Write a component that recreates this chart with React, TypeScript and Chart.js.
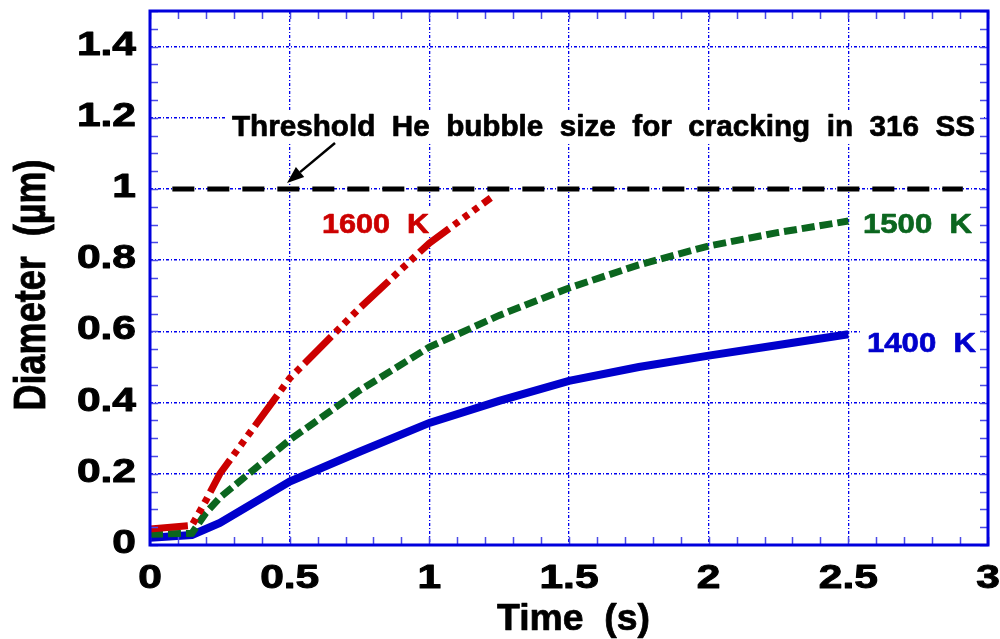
import React, { useEffect, useRef } from "react";
import { Chart, registerables } from "chart.js";

Chart.register(...registerables);

// ---- Data ----
const time1400 = [0, 0.15, 0.25, 0.5, 0.75, 1, 1.25, 1.5, 1.75, 2, 2.25, 2.5];
const dia1400 = [0.02, 0.028, 0.062, 0.178, 0.262, 0.343, 0.405, 0.461, 0.5, 0.532, 0.562, 0.592];

const time1500 = [0, 0.15, 0.2, 0.25, 0.5, 0.75, 1, 1.25, 1.5, 1.75, 2, 2.25, 2.5];
const dia1500 = [0.03, 0.033, 0.09, 0.133, 0.295, 0.434, 0.556, 0.645, 0.722, 0.787, 0.84, 0.878, 0.91];

const time1600 = [0, 0.15, 0.2, 0.25, 0.5, 0.75, 1, 1.22];
const dia1600 = [0.045, 0.055, 0.125, 0.2, 0.468, 0.665, 0.848, 0.975];

const thresholdTime = [0.08, 2.91];
const thresholdDia = [1, 1];

const xTicks = [0, 0.5, 1, 1.5, 2, 2.5, 3];
const xTickLabels = ["0", "0.5", "1", "1.5", "2", "2.5", "3"];
const yTicks = [0, 0.2, 0.4, 0.6, 0.8, 1, 1.2, 1.4];
const yTickLabels = ["0", "0.2", "0.4", "0.6", "0.8", "1", "1.2", "1.4"];

const xTitle = "Time  (s)";
const yTitle = "Diameter  (µm)";
const thresholdText = "Threshold  He  bubble  size  for  cracking  in  316  SS";
const seriesLabels = ["1600  K", "1500  K", "1400  K"];

const RED = "#cc0000";
const GREEN = "#0b661f";
const BLUE = "#0000cc";
const FRAME = "#0000dd";
const FONT = '"Liberation Sans", Arial, Helvetica, sans-serif';

function toPoints(xs: number[], ys: number[]) {
  return xs.map((x, i) => ({ x, y: ys[i] }));
}

function drawStretched(
  ctx: CanvasRenderingContext2D,
  text: string,
  x: number,
  baseline: number,
  font: string,
  color: string,
  sx: number,
  align: "left" | "right" | "center",
  heavy = 0.7
) {
  ctx.save();
  ctx.font = font;
  ctx.fillStyle = color;
  ctx.strokeStyle = color;
  ctx.lineJoin = "round";
  ctx.textBaseline = "alphabetic";
  ctx.textAlign = "left";
  const w = ctx.measureText(text).width * sx;
  const left = align === "left" ? x : align === "right" ? x - w : x - w / 2;
  ctx.translate(left, baseline);
  ctx.scale(sx, 1);
  ctx.fillText(text, 0, 0);
  if (heavy > 0) {
    ctx.lineWidth = heavy;
    ctx.strokeText(text, 0, 0);
  }
  ctx.restore();
}

function drawFit(
  ctx: CanvasRenderingContext2D,
  text: string,
  left: number,
  baseline: number,
  font: string,
  color: string,
  width: number
) {
  ctx.save();
  ctx.font = font;
  const m = ctx.measureText(text).width;
  ctx.restore();
  drawStretched(ctx, text, left, baseline, font, color, width / m, "left");
}

const overlayPlugin = {
  id: "overlay",
  beforeDatasetsDraw(chart: any) {
    const ctx: CanvasRenderingContext2D = chart.ctx;
    ctx.save();
    ctx.fillStyle = "#ffffff";
    // white boxes behind annotations
    ctx.fillRect(226, 110, 758, 33);
    ctx.fillRect(318, 208, 114, 29);
    ctx.fillRect(858, 208, 124, 30);
    ctx.fillRect(860, 327, 124, 30);
    ctx.restore();
  },
  afterDatasetsDraw(chart: any) {
    const ctx: CanvasRenderingContext2D = chart.ctx;
    const a = chart.chartArea;
    const xs = chart.scales.x;
    const ys = chart.scales.y;

    ctx.save();
    // minor / major ticks inside on all 4 sides
    ctx.strokeStyle = "#4a4ae8";
    ctx.lineWidth = 1.5;
    ctx.beginPath();
    for (let i = 0; i <= 30; i++) {
      const px = Math.round(xs.getPixelForValue(i / 10)) + 0.5;
      ctx.moveTo(px, a.bottom);
      ctx.lineTo(px, a.bottom - 8);
      ctx.moveTo(px, a.top);
      ctx.lineTo(px, a.top + 8);
    }
    for (let i = 0; i <= 30; i++) {
      const py = Math.round(ys.getPixelForValue(i * 0.05)) + 0.5;
      ctx.moveTo(a.left, py);
      ctx.lineTo(a.left + 8, py);
      ctx.moveTo(a.right, py);
      ctx.lineTo(a.right - 8, py);
    }
    ctx.stroke();

    // frame
    ctx.strokeStyle = FRAME;
    ctx.lineWidth = 3;
    ctx.strokeRect(a.left, a.top, a.right - a.left, a.bottom - a.top);
    ctx.restore();

    // tick labels
    const tickFont = `bold 34px ${FONT}`;
    xTicks.forEach((v, i) => {
      drawStretched(ctx, xTickLabels[i], xs.getPixelForValue(v), 588, tickFont, "#000", 1.25, "center", 1);
    });
    yTicks.forEach((v, i) => {
      drawStretched(ctx, yTickLabels[i], 136, ys.getPixelForValue(v) + 8, tickFont, "#000", 1.25, "right", 1);
    });

    // axis titles
    drawFit(ctx, xTitle, 497, 630, `bold 36px ${FONT}`, "#000", 153);
    ctx.save();
    ctx.font = `bold 36px ${FONT}`;
    ctx.fillStyle = "#000";
    ctx.strokeStyle = "#000";
    ctx.lineWidth = 0.7;
    ctx.textAlign = "center";
    ctx.textBaseline = "alphabetic";
    ctx.translate(45, 285);
    ctx.rotate(-Math.PI / 2);
    ctx.scale(1, 1.24);
    ctx.fillText(yTitle, 0, 0);
    ctx.strokeText(yTitle, 0, 0);
    ctx.restore();

    // annotations
    drawFit(ctx, thresholdText, 232, 136, `bold 29px ${FONT}`, "#000", 743);
    drawFit(ctx, seriesLabels[0], 322, 233, `bold 28px ${FONT}`, RED, 107);
    drawFit(ctx, seriesLabels[1], 863, 233, `bold 28px ${FONT}`, GREEN, 109);
    drawFit(ctx, seriesLabels[2], 867, 352, `bold 28px ${FONT}`, BLUE, 109);

    // arrow
    ctx.save();
    const x0 = 335, y0 = 143, x1 = 287, y1 = 183;
    const ang = Math.atan2(y1 - y0, x1 - x0);
    const headLen = 17, headW = 6.5;
    const bx = x1 - headLen * Math.cos(ang);
    const by = y1 - headLen * Math.sin(ang);
    ctx.strokeStyle = "#000";
    ctx.lineWidth = 2.5;
    ctx.beginPath();
    ctx.moveTo(x0, y0);
    ctx.lineTo(bx, by);
    ctx.stroke();
    ctx.fillStyle = "#000";
    ctx.beginPath();
    ctx.moveTo(x1, y1);
    ctx.lineTo(bx + headW * Math.sin(ang), by - headW * Math.cos(ang));
    ctx.lineTo(bx - headW * Math.sin(ang), by + headW * Math.cos(ang));
    ctx.closePath();
    ctx.fill();
    ctx.restore();
  },
};

export default function App() {
  const canvasRef = useRef<HTMLCanvasElement | null>(null);

  useEffect(() => {
    const canvas = canvasRef.current;
    if (!canvas) return;
    const chart = new Chart(canvas, {
      type: "line",
      data: {
        datasets: [
          {
            label: "1600 K",
            data: toPoints(time1600, dia1600),
            borderColor: RED,
            borderWidth: 7,
            borderDash: [38, 6, 6, 6, 6, 6, 6, 6],
            borderCapStyle: "butt",
            pointRadius: 0,
            tension: 0,
            fill: false,
          },
          {
            label: "1500 K",
            data: toPoints(time1500, dia1500),
            borderColor: GREEN,
            borderWidth: 7,
            borderDash: [13, 5],
            borderCapStyle: "butt",
            pointRadius: 0,
            tension: 0,
            fill: false,
          },
          {
            label: "1400 K",
            data: toPoints(time1400, dia1400),
            borderColor: BLUE,
            borderWidth: 8,
            pointRadius: 0,
            tension: 0,
            fill: false,
          },
          {
            label: "Threshold",
            data: toPoints(thresholdTime, thresholdDia),
            borderColor: "#000000",
            borderWidth: 5,
            borderDash: [22, 13],
            borderCapStyle: "butt",
            pointRadius: 0,
            tension: 0,
            fill: false,
          },
        ],
      },
      options: {
        responsive: false,
        animation: false,
        devicePixelRatio: 1,
        layout: { padding: { top: 11, right: 12, left: 0, bottom: 0 } },
        plugins: {
          legend: { display: false },
          tooltip: { enabled: false },
          title: { display: false },
        },
        scales: {
          x: {
            type: "linear",
            min: 0,
            max: 3,
            afterBuildTicks: (s: any) => {
              s.ticks = xTicks.map((v) => ({ value: v }));
            },
            afterFit: (s: any) => {
              s.height = 94;
            },
            ticks: { display: false },
            grid: { color: "#0000ee", lineWidth: 1.3, drawTicks: false },
            border: { display: false, dash: [3, 2, 1, 2] },
          },
          y: {
            type: "linear",
            min: 0,
            max: 1.5,
            afterBuildTicks: (s: any) => {
              s.ticks = yTicks.map((v) => ({ value: v }));
            },
            afterFit: (s: any) => {
              s.width = 150;
            },
            ticks: { display: false },
            grid: { color: "#0000ee", lineWidth: 1.6, drawTicks: false },
            border: { display: false, dash: [3, 2, 1, 2] },
          },
        },
      },
      plugins: [overlayPlugin],
    });
    return () => chart.destroy();
  }, []);

  return (
    <div style={{ position: "absolute", left: 0, top: 0, width: 1000, height: 639, background: "#fff" }}>
      <canvas ref={canvasRef} width={1000} height={639} style={{ display: "block", width: 1000, height: 639 }} />
    </div>
  );
}
